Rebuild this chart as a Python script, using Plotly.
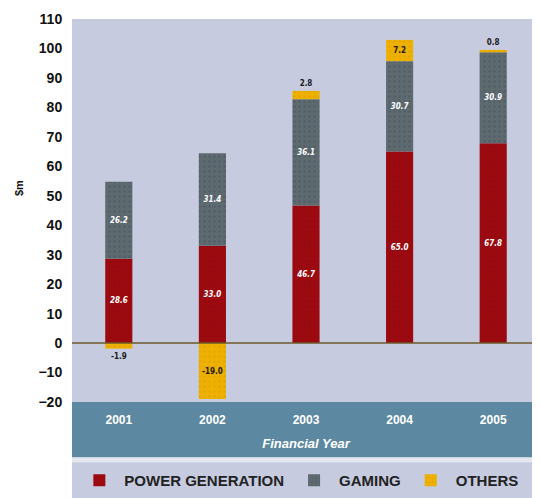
import plotly.graph_objects as go

years = ["2001", "2002", "2003", "2004", "2005"]
power_generation = [28.6, 33.0, 46.7, 65.0, 67.8]
gaming = [26.2, 31.4, 36.1, 30.7, 30.9]
others = [-1.9, -19.0, 2.8, 7.2, 0.8]
y_ticks = [-20, -10, 0, 10, 20, 30, 40, 50, 60, 70, 80, 90, 100, 110]

NARROW = "Liberation Sans Narrow, Arial Narrow, DejaVu Sans Condensed, sans-serif"
FONT = "Liberation Sans, Arial, sans-serif"
BG = "#c6cbe0"
BAND = "#5c88a1"

fig = go.Figure()
fig.add_trace(go.Bar(
    x=years, y=power_generation, name="POWER GENERATION",
    marker=dict(color="#9c0a10", line=dict(width=0),
                pattern=dict(shape=".", fgcolor="#7d0a10", size=5, solidity=0.15)),
    texttemplate="%{y:.1f}", textposition="inside", insidetextanchor="middle",
    textfont=dict(color="white", size=8, family=NARROW, weight="bold", style="italic"),
))
fig.add_trace(go.Bar(
    x=years, y=gaming, name="GAMING",
    marker=dict(color="#5d6a6e", line=dict(width=0),
                pattern=dict(shape=".", fgcolor="#4a4f6a", size=5, solidity=0.2)),
    texttemplate="%{y:.1f}", textposition="inside", insidetextanchor="middle",
    textfont=dict(color="white", size=8, family=NARROW, weight="bold", style="italic"),
))
fig.add_trace(go.Bar(
    x=years, y=others, name="OTHERS",
    marker=dict(color="#efb100", line=dict(width=0),
                pattern=dict(shape=".", fgcolor="#d79a00", size=5, solidity=0.2)),
    texttemplate="%{y:.1f}",
    textposition=["outside", "inside", "outside", "inside", "outside"],
    insidetextanchor="middle",
    textfont=dict(color="#1a1a1a", size=8, family=NARROW, weight="bold"),
    cliponaxis=False,
))

# bottom band behind x labels, separator, legend band
fig.add_shape(type="rect", xref="paper", yref="paper", x0=0, x1=1, y0=0, y1=-0.145,
              fillcolor=BAND, line=dict(width=0), layer="below")
fig.add_shape(type="rect", xref="paper", yref="paper", x0=0, x1=1, y0=-0.145, y1=-0.157,
              fillcolor="#e4e7f0", line=dict(width=0), layer="below")
fig.add_shape(type="rect", xref="paper", yref="paper", x0=0, x1=1, y0=-0.157, y1=-0.26,
              fillcolor=BG, line=dict(width=0), layer="below")
# zero line
fig.add_hline(y=0, line=dict(color="#6b5a28", width=1.5))

# y-axis unit label
fig.add_annotation(text="$m", xref="paper", yref="paper", x=-0.13, y=0.559,
                   textangle=-90, showarrow=False,
                   font=dict(size=11, family=FONT, weight="bold", color="#111"))

fig.update_layout(
    width=532, height=490,
    margin=dict(l=64, r=0, t=11, b=96),
    barmode="relative", bargap=0.71,
    plot_bgcolor=BG, paper_bgcolor="white",
    font=dict(family=FONT, color="#111", size=12),
    showlegend=True,
    legend=dict(orientation="h", x=0.005, xanchor="left", y=-0.205, yanchor="middle",
                bgcolor="rgba(0,0,0,0)", font=dict(size=15, family=FONT, color="#222", weight="bold"),
                itemwidth=40, traceorder="normal"),
    xaxis=dict(showgrid=False, zeroline=False, showline=False,
               ticks="outside", ticklen=7, tickcolor="rgba(0,0,0,0)",
               tickfont=dict(color="white", size=12, family=FONT, weight="bold"),
               title=dict(text="Financial Year", standoff=12,
                          font=dict(color="white", size=13, family=FONT, weight="bold", style="italic"))),
    yaxis=dict(range=[-20, 110], tickvals=y_ticks, showgrid=False, zeroline=False,
               showline=False, ticks="outside", ticklen=6, tickcolor="rgba(0,0,0,0)",
               tickfont=dict(size=14, family=FONT, weight="bold", color="#111")),
)

fig.write_html("out.html")
